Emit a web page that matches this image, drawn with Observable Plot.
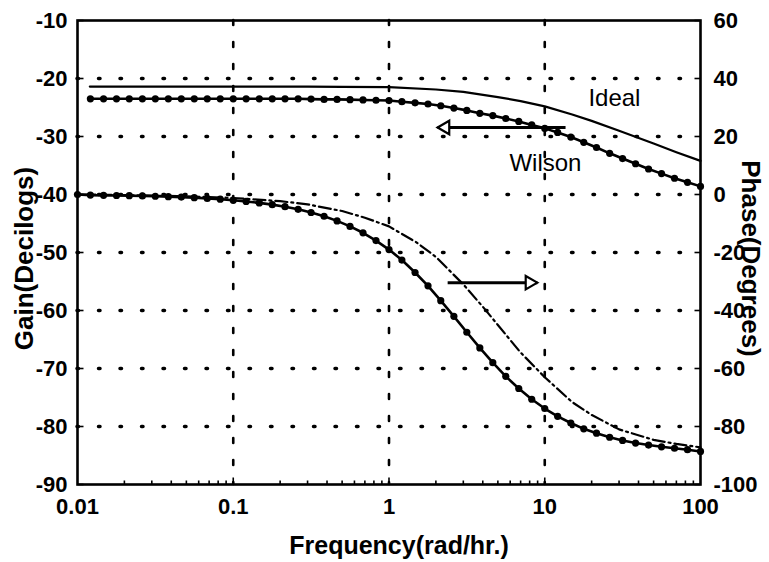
<!DOCTYPE html>
<html><head><meta charset="utf-8">
<script src="https://cdn.jsdelivr.net/npm/d3@7"></script>
<script src="https://cdn.jsdelivr.net/npm/@observablehq/plot@0.6"></script>
<style>body{margin:0;background:#fff;} svg{display:block}</style>
</head><body><div id="chart"></div>
<script>
// Frequencies (rad/hr) at which the Wilson markers sit
const freqW = [0.01, 0.0121, 0.0147, 0.0178, 0.0215, 0.0261, 0.0316, 0.0383, 0.0464, 0.0562, 0.0681, 0.0825,
  0.1, 0.121, 0.147, 0.178, 0.215, 0.261, 0.316, 0.383, 0.464, 0.562, 0.681, 0.825,
  1, 1.21, 1.47, 1.78, 2.15, 2.61, 3.16, 3.83, 4.64, 5.62, 6.81, 8.25,
  10, 12.1, 14.7, 17.8, 21.5, 26.1, 31.6, 38.3, 46.4, 56.2, 68.1, 82.5, 100];
// Wilson gain (decilogs)
const wilsonGain = [null, -23.5, -23.5, -23.5, -23.5, -23.5, -23.5, -23.5, -23.5, -23.5, -23.5, -23.5,
  -23.5, -23.5, -23.5, -23.5, -23.5, -23.5, -23.55, -23.6, -23.6, -23.65, -23.7, -23.75,
  -23.8, -24.0, -24.2, -24.4, -24.7, -25.1, -25.5, -26.0, -26.4, -26.9, -27.4, -28.0,
  -28.6, -29.3, -30.1, -31.0, -31.9, -32.9, -33.8, -34.7, -35.6, -36.4, -37.2, -37.9, -38.6];
// Wilson phase (degrees)
const wilsonPhase = [0, -0.2, -0.3, -0.35, -0.4, -0.5, -0.6, -0.75, -0.9, -1.1, -1.35, -1.6,
  -2.0, -2.4, -2.9, -3.5, -4.2, -5.1, -6.2, -7.5, -9.1, -11.0, -13.2, -15.9,
  -19.0, -22.6, -26.9, -31.5, -36.6, -42.0, -47.5, -52.9, -58.0, -62.7, -66.9, -70.6,
  -73.8, -76.5, -78.8, -80.8, -82.3, -83.7, -84.8, -85.7, -86.4, -87.0, -87.5, -88.0, -88.6];
// Ideal gain
const freqIdealG = [0.012, 0.05, 0.1, 0.3, 0.5, 1, 2, 3, 5, 7, 10, 15, 20, 30, 50, 70, 100];
const idealGain = [-21.4, -21.4, -21.4, -21.4, -21.45, -21.5, -21.9, -22.3, -23.2, -23.9, -24.8, -26.2, -27.3, -29.0, -31.2, -32.7, -34.2];
// Ideal phase
const freqIdealP = [0.01, 0.02, 0.05, 0.1, 0.2, 0.3, 0.5, 0.7, 1, 1.5, 2, 3, 4, 5, 7, 10, 15, 20, 30, 50, 70, 100];
const idealPhase = [0, -0.2, -0.6, -1.2, -2.3, -3.4, -5.7, -8.0, -11.0, -16.5, -21.5, -31.0, -38.7, -45.0, -54.5, -63.0, -71.6, -76.0, -81.0, -84.6, -86.0, -87.2];

// Axis ticks and labels
const freqTicks = [0.01, 0.1, 1, 10, 100];
const freqLabels = ["0.01", "0.1", "1", "10", "100"];
const freqMinor = [0.02,0.03,0.04,0.05,0.06,0.07,0.08,0.09,0.2,0.3,0.4,0.5,0.6,0.7,0.8,0.9,2,3,4,5,6,7,8,9,20,30,40,50,60,70,80,90];
const gainTicks = [-90, -80, -70, -60, -50, -40, -30, -20, -10];
const gainLabels = ["-90", "-80", "-70", "-60", "-50", "-40", "-30", "-20", "-10"];
const phaseLabels = ["-100", "-80", "-60", "-40", "-20", "0", "20", "40", "60"];
const gainGrid = [-80, -70, -60, -50, -40, -30, -20];
const freqGrid = [0.1, 1, 10];

// Annotations
const curveLabels = [{label: "Ideal", f: 28, g: -23.4}, {label: "Wilson", f: 10.1, g: -34.6}];
const arrowLeft = [{f1: 13.6, f2: 2.05, g: -28.45}];        // points to gain axis
const arrowRight = [{f1: 2.38, f2: 8.97, p: -30.4}];        // points to phase axis

const toY = p => -40 + p / 2;   // phase (deg) -> gain-scale position
const wilsonG = freqW.map((f, i) => ({f, v: wilsonGain[i]}));
const wilsonP = freqW.map((f, i) => ({f, v: toY(wilsonPhase[i])}));
const idealG = freqIdealG.map((f, i) => ({f, v: idealGain[i]}));
const idealP = freqIdealP.map((f, i) => ({f, v: toY(idealPhase[i])}));
const arrR = arrowRight.map(d => ({f1: d.f1, f2: d.f2, g: toY(d.p)}));

const fLab = new Map(freqTicks.map((d, i) => [d, freqLabels[i]]));
const gLab = new Map(gainTicks.map((d, i) => [d, gainLabels[i]]));
const pLab = new Map(gainTicks.map((d, i) => [d, phaseLabels[i]]));

const seg = (dx, dy) => ({draw(c) { c.moveTo(0, 0); c.lineTo(dx, dy); }});
const tickStyle = {stroke: "black", fill: "none", strokeWidth: 1.6};

const chart = Plot.plot({
  width: 769, height: 562,
  marginLeft: 77, marginRight: 69, marginTop: 20, marginBottom: 78,
  style: {fontFamily: "'Liberation Sans', Arial, sans-serif", fontSize: "22px", fontWeight: "bold", background: "white", color: "black"},
  x: {type: "log", domain: [0.01, 100]},
  y: {domain: [-90, -10]},
  marks: [
    Plot.ruleY(gainGrid, {y: d => d, stroke: "black", strokeWidth: 3.5, strokeDasharray: "1.5 20", strokeLinecap: "round"}),
    Plot.ruleX(freqGrid, {x: d => d, stroke: "black", strokeWidth: 2.6, strokeDasharray: "5 17", strokeLinecap: "round"}),
    Plot.frame({stroke: "black", strokeWidth: 2.6}),
    Plot.dot(freqMinor, {x: d => d, frameAnchor: "bottom", symbol: seg(0, -4), ...tickStyle}),
    Plot.dot(freqGrid, {x: d => d, frameAnchor: "bottom", symbol: seg(0, -7), ...tickStyle}),
    Plot.dot(gainTicks, {y: d => d, frameAnchor: "left", symbol: seg(6, 0), ...tickStyle}),
    Plot.dot(gainTicks, {y: d => d, frameAnchor: "right", symbol: seg(-6, 0), ...tickStyle}),
    // curves
    Plot.line(idealG, {x: "f", y: "v", stroke: "black", strokeWidth: 2.2}),
    Plot.line(idealP, {x: "f", y: "v", stroke: "black", strokeWidth: 2.2, strokeDasharray: "12 4 2 4"}),
    Plot.line(wilsonG, {x: "f", y: "v", stroke: "black", strokeWidth: 2.6}),
    Plot.dot(wilsonG, {x: "f", y: "v", r: 3.6, fill: "black", stroke: "none"}),
    Plot.line(wilsonP, {x: "f", y: "v", stroke: "black", strokeWidth: 2.6}),
    Plot.dot(wilsonP, {x: "f", y: "v", r: 3.6, fill: "black", stroke: "none"}),
    // arrows
    Plot.link(arrowLeft, {x1: "f1", x2: "f2", y1: "g", y2: "g", stroke: "black", strokeWidth: 3}),
    Plot.dot(arrowLeft, {x: "f2", y: "g", symbol: "triangle", r: 5, rotate: -90, dx: 7.8, fill: "white", stroke: "black", strokeWidth: 2.2}),
    Plot.link(arrR, {x1: "f1", x2: "f2", y1: "g", y2: "g", stroke: "black", strokeWidth: 3}),
    Plot.dot(arrR, {x: "f2", y: "g", symbol: "triangle", r: 5, rotate: 90, dx: -7.8, fill: "white", stroke: "black", strokeWidth: 2.2}),
    // curve labels
    Plot.text(curveLabels, {x: "f", y: "g", text: "label", fontSize: 24, fontWeight: "normal", fill: "black"}),
    // axes
    Plot.axisX(freqTicks, {tickSize: 0, tickPadding: 14, tickFormat: d => fLab.get(d), label: null}),
    Plot.axisY(gainTicks, {anchor: "left", tickSize: 0, tickPadding: 10, tickFormat: d => gLab.get(d), label: null}),
    Plot.axisY(gainTicks, {anchor: "right", tickSize: 0, tickPadding: 13, tickFormat: d => pLab.get(d), label: null}),
    // axis titles
    Plot.text(["Frequency(rad/hr.)"], {frameAnchor: "bottom", lineAnchor: "middle", textAnchor: "middle", dx: 10, dy: 61, fontSize: 25, fontWeight: "bold"}),
    Plot.text(["Gain(Decilogs)"], {frameAnchor: "left", lineAnchor: "middle", textAnchor: "middle", rotate: -90, dx: -53, dy: 6, fontSize: 26, fontWeight: "bold"}),
    Plot.text(["Phase(Degrees)"], {frameAnchor: "right", lineAnchor: "middle", textAnchor: "middle", rotate: 90, dx: 50, dy: 6, fontSize: 26, fontWeight: "bold"})
  ]
});
document.getElementById("chart").append(chart);
</script>
</body></html>
